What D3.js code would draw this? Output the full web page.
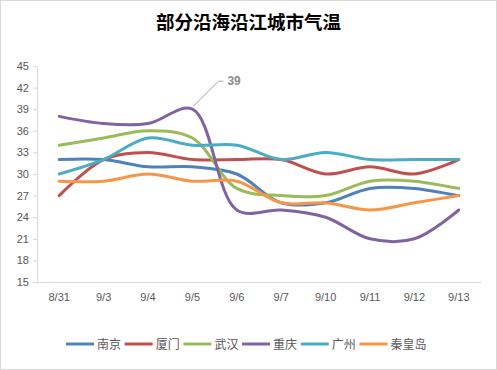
<!DOCTYPE html>
<html>
<head>
<meta charset="utf-8">
<script src="https://cdn.jsdelivr.net/npm/d3@7"></script>
<style>
  body { margin: 0; background: #fff; }
  svg { font-family: "Noto Sans CJK SC", "Microsoft YaHei", sans-serif; }
</style>
</head>
<body>
<div id="chart"></div>
<script>
  // data
  const dates = ["8/31", "9/3", "9/4", "9/5", "9/6", "9/7", "9/10", "9/11", "9/12", "9/13"];
  const cities = ["南京", "厦门", "武汉", "重庆", "广州", "秦皇岛"];
  const nanjing   = [32, 32, 31, 31, 30, 26, 26, 28, 28, 27];
  const xiamen    = [27, 32, 33, 32, 32, 32, 30, 31, 30, 32];
  const wuhan     = [34, 35, 36, 35, 28, 27, 27, 29, 29, 28];
  const chongqing = [38, 37, 37, 39, 25, 25, 24, 21, 21, 25];
  const guangzhou = [30, 32, 35, 34, 34, 32, 33, 32, 32, 32];
  const qinhuang  = [29, 29, 30, 29, 29, 26, 26, 25, 26, 27];
  const yTicks = [15, 18, 21, 24, 27, 30, 33, 36, 39, 42, 45];

  const colors = ["#4f81bd", "#c0504d", "#9bbb59", "#8064a2", "#4bacc6", "#f79646"];
  const series = [nanjing, xiamen, wuhan, chongqing, guangzhou, qinhuang]
      .map(function (v, i) { return { label: cities[i], values: v, fill: colors[i] }; });

  const width = 497, height = 370;
  const margin = { top: 66, right: 16, bottom: 88, left: 37 };

  const svg = d3.select("#chart").append("svg")
      .attr("width", width)
      .attr("height", height);

  svg.append("rect")
      .attr("x", 0.5).attr("y", 0.5)
      .attr("width", width - 1).attr("height", height - 1)
      .attr("fill", "#fff")
      .attr("stroke", "#d9d9d9");

  svg.append("text")
      .attr("x", width / 2)
      .attr("y", 28.5)
      .attr("text-anchor", "middle")
      .attr("font-size", 18.5)
      .attr("font-weight", "bold")
      .attr("fill", "#000")
      .text("部分沿海沿江城市气温");

  const x = d3.scaleBand()
      .domain(dates)
      .range([margin.left, width - margin.right]);
  const y = d3.scaleLinear()
      .domain([15, 45])
      .range([height - margin.bottom, margin.top]);

  // y axis
  const gy = svg.append("g")
      .attr("transform", "translate(" + margin.left + ",0)")
      .call(d3.axisLeft(y).tickValues(yTicks).tickSize(4).tickPadding(4));
  gy.select(".domain").attr("stroke", "#d9d9d9");
  gy.selectAll(".tick line").attr("stroke", "#d9d9d9");
  gy.selectAll(".tick text")
      .attr("fill", "#595959")
      .attr("font-size", 11)
      .attr("font-family", "Liberation Sans, Arial, sans-serif");

  // x axis
  const gx = svg.append("g")
      .attr("transform", "translate(0," + (height - margin.bottom) + ")")
      .call(d3.axisBottom(x).tickSize(0).tickPadding(11));
  gx.select(".domain").attr("stroke", "#d9d9d9");
  gx.selectAll(".tick text")
      .attr("fill", "#595959")
      .attr("font-size", 11)
      .attr("font-family", "Liberation Sans, Arial, sans-serif");

  const line = d3.line()
      .x(function (d, i) { return x(dates[i]) + x.bandwidth() / 2; })
      .y(function (d) { return y(d); })
      .curve(d3.curveCatmullRom.alpha(0.5));

  svg.append("g").selectAll("path")
      .data(series)
      .enter()
      .append("path")
      .attr("d", function (s) { return line(s.values); })
      .attr("fill", "none")
      .attr("stroke", function (s) { return s.fill; })
      .attr("stroke-width", 3)
      .attr("stroke-linecap", "round");

  // data label on the 重庆 peak
  const px = x("9/5") + x.bandwidth() / 2, py = y(chongqing[3]);
  svg.append("path")
      .attr("d", "M" + (px + 1) + "," + (py - 3) + "L" + (px + 26) + "," + (py - 28) + "h5")
      .attr("fill", "none")
      .attr("stroke", "#a6a6a6")
      .attr("stroke-width", 1);
  svg.append("text")
      .attr("x", px + 35)
      .attr("y", py - 24)
      .attr("font-size", 12)
      .attr("font-weight", "bold")
      .attr("fill", "#8c8c8c")
      .attr("font-family", "Liberation Sans, Arial, sans-serif")
      .text(chongqing[3]);

  // legend
  const lg = svg.append("g").attr("transform", "translate(66,344)");
  const item = lg.selectAll("g")
      .data(series)
      .enter()
      .append("g")
      .attr("transform", function (d, i) { return "translate(" + (i * 58.7) + ",0)"; });
  item.append("line")
      .attr("x1", 0).attr("x2", 28)
      .attr("stroke", function (d) { return d.fill; })
      .attr("stroke-width", 3);
  item.append("text")
      .attr("x", 31)
      .attr("y", 4.5)
      .attr("font-size", 12)
      .attr("fill", "#595959")
      .text(function (d) { return d.label; });
</script>
</body>
</html>
